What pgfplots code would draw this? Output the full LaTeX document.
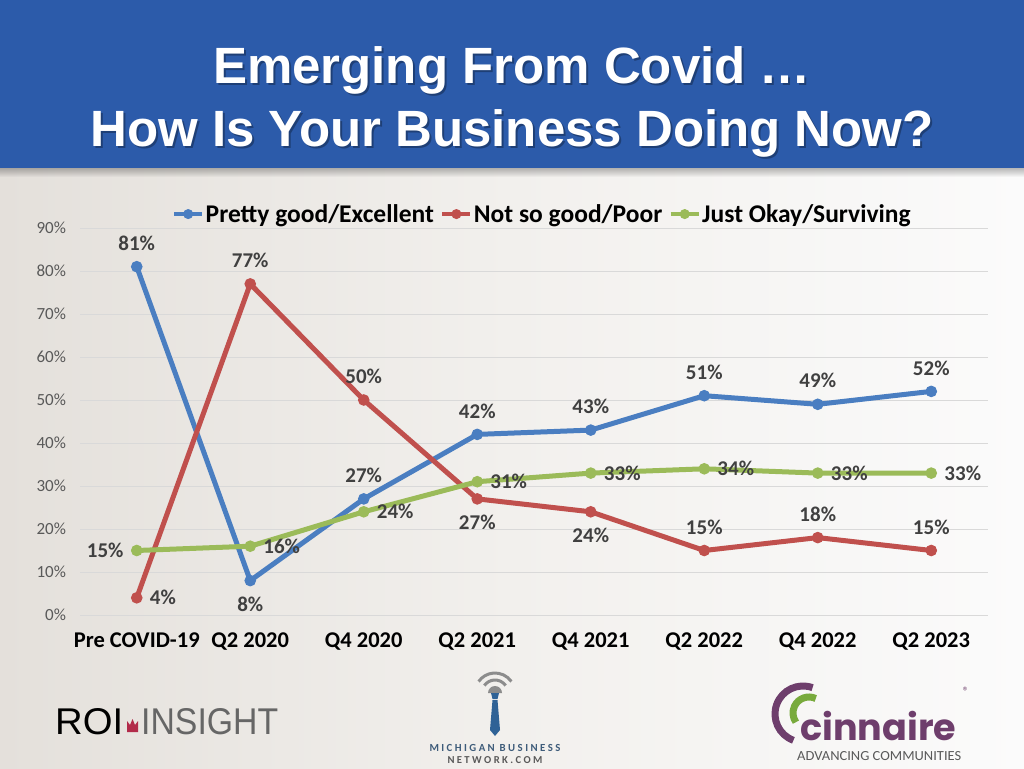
\documentclass[border=0pt]{standalone}
\usepackage{fontspec}
\setmainfont{Carlito}
\newfontfamily\titlefont{Liberation Sans}
\newfontfamily\cinfont{Poppins}
\usepackage{graphicx}
\usepackage{pgfplots}
\pgfplotsset{compat=1.18}
\usepackage{pgfplotstable}

\definecolor{cblue}{RGB}{74,126,193}
\definecolor{cred}{RGB}{192,80,77}
\definecolor{cgreen}{RGB}{155,187,89}
\definecolor{banner}{RGB}{44,91,170}
\definecolor{lab}{RGB}{64,64,64}
\definecolor{tickc}{RGB}{89,89,89}
\definecolor{gridc}{RGB}{217,217,217}
\definecolor{bgleft}{RGB}{228,224,219}
\definecolor{bgmid}{RGB}{242,240,237}
\definecolor{bgright}{RGB}{251,251,251}
\definecolor{crownred}{RGB}{178,43,74}
\definecolor{tieblue}{RGB}{47,98,150}
\definecolor{mbnblue}{RGB}{62,92,122}
\definecolor{cinpurple}{RGB}{110,62,108}
\definecolor{cingreen}{RGB}{120,170,60}

\pgfplotstableread{
x good bad ok
0 81 4  15
1 8  77 16
2 27 50 24
3 42 27 31
4 43 24 33
5 51 15 34
6 49 18 33
7 52 15 33
}\datatable

\pgfplotsset{
  lbl/.style={
    draw=none, mark=none, forget plot,
    point meta=y,
    nodes near coords={\pgfmathprintnumber{\pgfplotspointmeta}\%},
    every node near coord/.append style={anchor=#1, text=lab,
      font=\bfseries\fontsize{21}{25}\selectfont, inner xsep=13pt, inner ysep=16pt},
  },
  ser/.style={#1, line width=5pt, mark=*, mark size=5.3pt, mark options={solid, line width=1pt, fill=#1}},
}

\begin{document}
\begin{tikzpicture}[x=1pt,y=1pt]
\path[use as bounding box] (0,0) rectangle (1024,768);
% background
\shade[left color=bgleft, right color=bgright, middle color=bgmid] (0,0) rectangle (1024,768);
% banner
\fill[banner] (0,600) rectangle (1024,768);
\foreach \i in {1,...,9} {\fill[black, opacity=0.03] (0,600) rectangle (1024,600-\i);}
\foreach \t/\yy in {{Emerging From Covid …}/684, {How Is Your Business Doing Now?}/621} {
  \node[anchor=base, text=black, opacity=0.3, inner sep=0pt] at (514,\yy-2) {\titlefont\bfseries\fontsize{51}{60}\selectfont \t};
  \node[anchor=base, text=white, inner sep=0pt] at (512,\yy) {\titlefont\bfseries\fontsize{51}{60}\selectfont \t};
}

\begin{axis}[
  at={(80pt,153pt)}, anchor=south west, scale only axis,
  width=908pt, height=387pt,
  xmin=-0.5, xmax=7.5, ymin=0, ymax=90,
  clip=false,
  xtick={0,...,7},
  xticklabels={Pre COVID-19, Q2 2020, Q4 2020, Q2 2021, Q4 2021, Q2 2022, Q4 2022, Q2 2023},
  ytick={0,10,...,90},
  yticklabel={\pgfmathprintnumber{\tick}\%},
  /pgf/number format/assume math mode=true,
  axis line style={draw=none},
  major tick length=0pt,
  ymajorgrids, grid style={gridc, line width=1pt},
  xticklabel style={font=\bfseries\fontsize{22.5}{26}\selectfont, text=black, yshift=-14pt},
  yticklabel style={font=\fontsize{17}{20}\selectfont, text=tickc, xshift=-10.5pt},
  legend columns=3,
  legend style={at={(0.509,1.036)}, anchor=center, draw=none, fill=none,
    font=\bfseries\fontsize{25.5}{30}\selectfont, text=black,
    /tikz/every even column/.append style={column sep=5pt},
    nodes={inner sep=1.5pt}},
  legend image code/.code={\draw[mark repeat=2,mark phase=2,#1, line width=4pt, mark size=4.5pt] plot coordinates {(0pt,0pt) (14pt,0pt) (28pt,0pt)};},
]
\addplot[ser=cblue] table[x=x, y=good] {\datatable};
\addlegendentry{Pretty good/Excellent}
\addplot[ser=cred] table[x=x, y=bad] {\datatable};
\addlegendentry{Not so good/Poor}
\addplot[ser=cgreen] table[x=x, y=ok] {\datatable};
\addlegendentry{Just Okay/Surviving}
% data labels: blue
\addplot[lbl=south, skip coords between index={1}{2}] table[x=x, y=good] {\datatable};
\addplot[lbl=north, skip coords between index={0}{1}, skip coords between index={2}{8}] table[x=x, y=good] {\datatable};
% red
\addplot[lbl=west, skip coords between index={1}{8}] table[x=x, y=bad] {\datatable};
\addplot[lbl=south, skip coords between index={0}{1}, skip coords between index={3}{5}] table[x=x, y=bad] {\datatable};
\addplot[lbl=north, skip coords between index={0}{3}, skip coords between index={5}{8}] table[x=x, y=bad] {\datatable};
% green
\addplot[lbl=east, skip coords between index={1}{8}] table[x=x, y=ok] {\datatable};
\addplot[lbl=west, skip coords between index={0}{1}] table[x=x, y=ok] {\datatable};
\end{axis}

% ROI INSIGHT logo
\node[anchor=base west, inner sep=0pt, text=black] at (55,34) {\resizebox{68pt}{26pt}{\titlefont ROI}};
\fill[crownred] (127,36) rectangle (138,39) (127,39) -- (127,47) -- (130,43) -- (132.5,49) -- (135,43) -- (138,47) -- (138,39) -- cycle;
\node[anchor=base west, inner sep=0pt, text=black!60] at (141,34) {\resizebox{137pt}{26pt}{\titlefont INSIGHT}};

% Michigan Business Network logo
\draw[black!45, line width=3pt] (495,75) ++(35:20) arc (35:145:20);
\draw[black!45, line width=3pt] (495,75) ++(35:13) arc (35:145:13);
\fill[black!45] (488,75) arc (180:0:7) -- cycle;
\fill[tieblue] (491,75) -- (499,75) -- (497.5,69) -- (492.5,69) -- cycle;
\fill[tieblue] (492.5,68) -- (497.5,68) -- (500,38) -- (495,32) -- (490,38) -- cycle;
\node[anchor=base, inner sep=0pt, text=mbnblue] at (495,17) {\resizebox{131pt}{!}{\bfseries M I C H I G A N\ \ B U S I N E S S}};
\node[anchor=base, inner sep=0pt, text=black!65] at (495,5) {\resizebox{95pt}{!}{\bfseries N E T W O R K . C O M}};

% Cinnaire logo
\draw[cinpurple, line width=7pt] (803,54) ++(70:28) arc (70:250:28);
\draw[cingreen, line width=7pt] (809,55) ++(65:16) arc (65:215:16);
\node[anchor=base west, inner sep=0pt, text=cinpurple] at (800,28) {\resizebox{156pt}{!}{\cinfont\bfseries cinnaire}};
\node[anchor=center, inner sep=0pt, text=cinpurple] at (966,77) {\fontsize{12}{14}\selectfont ®};
\node[anchor=base west, inner sep=0pt, text=black!65] at (797,8) {\resizebox{164pt}{9pt}{ADVANCING COMMUNITIES}};
\end{tikzpicture}
\end{document}
